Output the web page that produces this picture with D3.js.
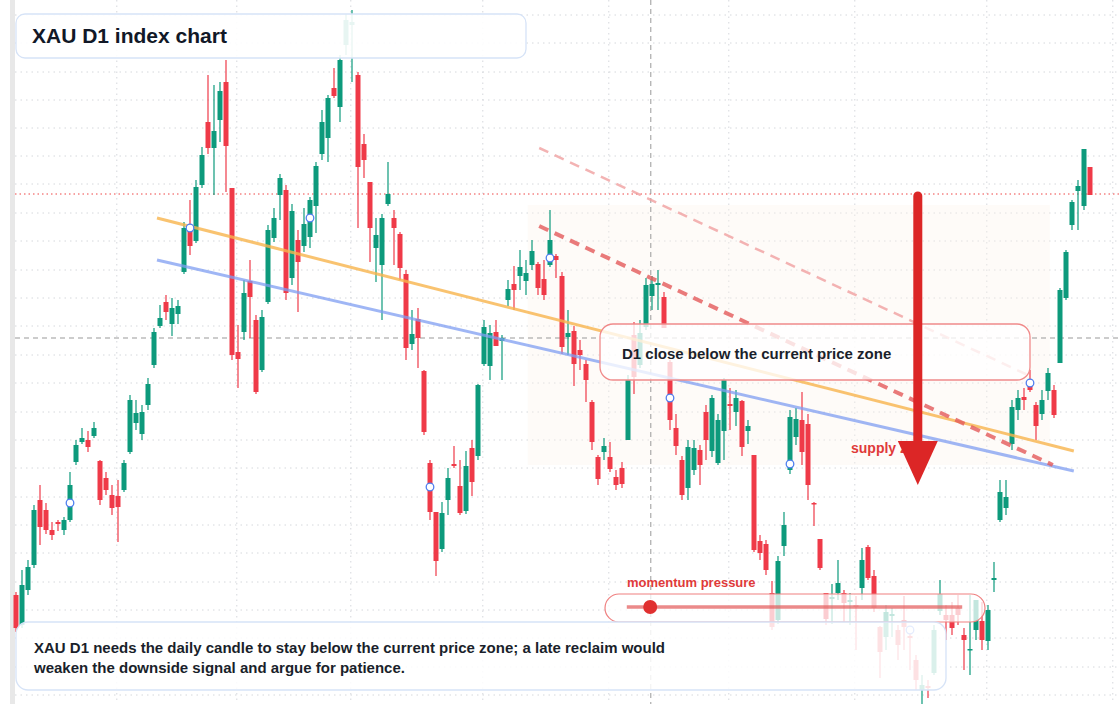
<!DOCTYPE html>
<html><head><meta charset="utf-8">
<script src="https://cdn.jsdelivr.net/npm/d3@7"></script>
<style>body{margin:0;background:#fff}svg{display:block}text{font-family:"Liberation Sans",Arial,sans-serif}</style>
</head><body><svg id="c" width="1120" height="704"></svg>
<script>
const opens =[2405,2375,2410,2435,2500,2490,2470,2478,2470,2480,2538,2558,2560,2564,2539,2522,2505,2504,2510,2548,2577,2566,2595,2635,2674,2698,2676,2686,2728,2772,2759,2815,2878,2852,2880,2918,2812,2648,2668,2719,2680,2630,2698,2762,2805,2810,2722,2760,2754,2763,2794,2846,2862,2912,2893,2955,2975,2925,2856,2818,2752,2735,2796,2782,2766,2726,2656,2681,2629,2537,2488,2451,2500,2536,2514,2489,2552,2544,2636,2634,2668,2659,2700,2716,2724,2719,2735,2736,2721,2735,2744,2724,2663,2669,2650,2636,2598,2543,2548,2543,2523,2532,2560,2665,2635,2673,2704,2715,2703,2638,2572,2540,2512,2530,2550,2588,2549,2537,2569,2596,2588,2599,2569,2545,2459,2456,2407,2380,2454,2530,2563,2580,2576,2497,2461,2407,2401,2407,2407,2398,2395,2412,2453,2424,2373,2363,2384,2370,2380,2364,2340,2310,2314,2327,2389,2385,2385,2392,2365,2350,2370,2379,2359,2420,2480,2492,2556,2590,2603,2616,2595,2586,2609,2610,2637,2702,2775,2809,2794,2833];
const highs =[2408,2430,2440,2495,2515,2497,2478,2480,2483,2528,2560,2572,2569,2578,2540,2528,2515,2520,2540,2605,2600,2595,2622,2672,2695,2705,2702,2700,2778,2800,2820,2853,2925,2915,2918,2940,2812,2675,2720,2740,2685,2690,2775,2792,2826,2815,2796,2770,2792,2803,2838,2890,2905,2932,2945,2986,2990,2928,2866,2818,2782,2786,2838,2790,2768,2730,2690,2692,2630,2540,2488,2498,2532,2554,2540,2549,2560,2616,2680,2675,2680,2665,2720,2734,2750,2740,2760,2738,2740,2790,2746,2728,2690,2674,2660,2640,2600,2545,2562,2558,2530,2538,2625,2678,2680,2722,2724,2730,2708,2640,2586,2544,2560,2560,2555,2595,2605,2586,2622,2612,2610,2600,2580,2545,2465,2460,2419,2444,2488,2590,2592,2608,2586,2498,2461,2407,2416,2440,2410,2407,2404,2452,2455,2430,2374,2395,2392,2375,2404,2366,2345,2325,2320,2375,2420,2395,2398,2405,2372,2405,2400,2398,2395,2438,2520,2520,2600,2610,2612,2630,2598,2610,2632,2615,2712,2750,2800,2820,2851,2833];
const lows  =[2368,2372,2405,2432,2455,2466,2460,2469,2465,2478,2535,2556,2548,2562,2495,2505,2485,2458,2508,2546,2570,2560,2590,2632,2672,2680,2664,2676,2726,2745,2757,2812,2846,2805,2858,2808,2640,2612,2660,2662,2606,2628,2696,2758,2780,2700,2715,2688,2748,2752,2767,2840,2838,2902,2878,2945,2918,2772,2822,2738,2718,2680,2794,2735,2720,2640,2650,2632,2565,2480,2424,2448,2485,2532,2485,2486,2504,2540,2634,2620,2654,2620,2694,2690,2710,2705,2730,2705,2700,2733,2722,2646,2645,2614,2630,2598,2550,2515,2540,2528,2510,2512,2560,2606,2632,2670,2690,2690,2672,2570,2545,2500,2500,2525,2515,2540,2543,2535,2540,2570,2574,2544,2556,2448,2440,2425,2370,2376,2444,2526,2555,2535,2500,2474,2430,2375,2376,2400,2378,2375,2350,2400,2420,2388,2322,2350,2363,2340,2350,2330,2310,2296,2302,2325,2385,2360,2365,2375,2330,2325,2360,2350,2350,2408,2478,2485,2550,2580,2590,2608,2560,2580,2600,2582,2637,2700,2770,2770,2790,2805];
const closes=[2372,2415,2433,2490,2473,2470,2465,2476,2480,2515,2555,2562,2553,2572,2500,2510,2492,2493,2537,2600,2587,2588,2616,2668,2682,2688,2692,2694,2772,2754,2813,2845,2852,2869,2909,2854,2645,2641,2707,2703,2608,2683,2770,2782,2822,2707,2789,2738,2776,2800,2834,2878,2902,2904,2940,2980,2978,2833,2840,2772,2765,2782,2806,2772,2732,2652,2666,2662,2568,2488,2439,2487,2522,2534,2487,2534,2518,2615,2673,2667,2654,2662,2711,2710,2733,2727,2749,2712,2705,2760,2740,2653,2667,2636,2645,2620,2558,2521,2554,2531,2515,2516,2620,2623,2667,2715,2716,2717,2672,2580,2554,2505,2553,2552,2535,2560,2602,2580,2620,2594,2602,2553,2574,2450,2447,2430,2373,2439,2475,2583,2581,2548,2515,2496,2432,2381,2403,2417,2397,2400,2393,2440,2422,2392,2348,2388,2386,2355,2373,2362,2320,2315,2312,2370,2406,2380,2372,2385,2360,2351,2400,2360,2390,2422,2508,2503,2593,2602,2600,2610,2574,2600,2627,2585,2710,2748,2798,2814,2851,2805];
const markerIdx=[9,29,49,69,89,109,129,149,169];
const markerVals=[2497,2772,2782,2513,2742,2602,2536,2370,2617];
const gridIdx=[16.8,36.8,55.8,77.8,98.8,118.8,139.8,161.8,182.8];
const gridPrices=[2985,2957,2928,2900,2872,2844,2816,2787,2759,2730,2702,2674,2645,2617,2588,2560,2532,2503,2475,2447,2418,2390,2362,2333,2305];
const orangeLine=[[23.5,2782],[176.3,2549]];
const blueLine=[[23.5,2740],[176.3,2529]];
const redDash=[[87.2,2774],[172.8,2535]];
const redDashLight=[[87.2,2852],[169,2624]];
const zone={x0:85.3,x1:172.3,p0:2795,p1:2535};
const arrow={i:150.3,from:2804,to:2515};
const refPrice=2806, crossPrice=2662, crossIdx=105.8;
const momentum={i0:101.8,i1:157.7,dot:105.7};

const svg=d3.select("#c");
const x=d3.scaleLinear().domain([0,179]).range([16,1090]);
const y=d3.scaleLinear().domain([3000,2296]).range([0,704]);
const G="#0d9a7c", R="#ef3a48";
svg.append("rect").attr("x",10).attr("y",0).attr("width",5).attr("height",704).attr("fill","#e8e8e8");
const g=svg.append("g");
g.selectAll(".gv").data(gridIdx).join("line").attr("x1",d=>x(d)).attr("x2",d=>x(d)).attr("y1",0).attr("y2",704).attr("stroke","#d5d8dc").attr("stroke-dasharray","1.5,4");
g.selectAll(".gh").data(gridPrices).join("line").attr("x1",15).attr("x2",1120).attr("y1",d=>y(d)).attr("y2",d=>y(d)).attr("stroke","#d5d8dc").attr("stroke-dasharray","1.5,4");
svg.append("rect").attr("x",x(zone.x0)).attr("y",y(zone.p0)).attr("width",x(zone.x1)-x(zone.x0)).attr("height",y(zone.p1)-y(zone.p0)).attr("fill","#fdf3ea").attr("opacity",0.35);
svg.append("line").attr("x1",15).attr("x2",1120).attr("y1",y(refPrice)).attr("y2",y(refPrice)).attr("stroke","#ef4444").attr("stroke-dasharray","1.5,3");
svg.append("line").attr("x1",15).attr("x2",1120).attr("y1",y(crossPrice)).attr("y2",y(crossPrice)).attr("stroke","#999").attr("stroke-dasharray","5,4");
svg.append("line").attr("x1",x(crossIdx)).attr("x2",x(crossIdx)).attr("y1",0).attr("y2",704).attr("stroke","#999").attr("stroke-dasharray","5,4");
const idx=d3.range(opens.length);
const c=svg.append("g").selectAll("g").data(idx).join("g");
c.append("line").attr("x1",i=>x(i)).attr("x2",i=>x(i)).attr("y1",i=>y(highs[i])).attr("y2",i=>y(lows[i])).attr("stroke",i=>closes[i]>=opens[i]?G:R).attr("stroke-width",1.2);
c.append("rect").attr("x",i=>x(i)-2.5).attr("width",5).attr("y",i=>y(Math.max(opens[i],closes[i]))).attr("height",i=>Math.max(1.5,Math.abs(y(opens[i])-y(closes[i])))).attr("fill",i=>closes[i]>=opens[i]?G:R);
const ln=d3.line().x(d=>x(d[0])).y(d=>y(d[1]));
svg.append("path").attr("d",ln(orangeLine)).attr("stroke","#f8b44c").attr("stroke-width",3).attr("opacity",0.8).attr("fill","none");
svg.append("path").attr("d",ln(blueLine)).attr("stroke","#7f9ef2").attr("stroke-width",3).attr("opacity",0.75).attr("fill","none");
svg.append("path").attr("d",ln(redDash)).attr("stroke","#e35a5a").attr("stroke-width",4).attr("stroke-dasharray","10,7").attr("opacity",0.8).attr("fill","none");
svg.append("path").attr("d",ln(redDashLight)).attr("stroke","#f0a0a0").attr("stroke-width",2.5).attr("stroke-dasharray","10,7").attr("opacity",0.8).attr("fill","none");
svg.selectAll(".mk").data(markerIdx).join("circle").attr("cx",d=>x(d)).attr("cy",(d,i)=>y(markerVals[i])).attr("r",3.8).attr("fill","#fff").attr("stroke","#4f7ff0").attr("stroke-width",1.3);
svg.append("text").attr("x",851).attr("y",453).attr("fill","#e03a3a").attr("font-size",14).attr("font-weight","bold").text("supply zone");
svg.append("rect").attr("x",600).attr("y",324).attr("width",430).attr("height",56).attr("rx",13).attr("fill","#fff").attr("fill-opacity",0.78).attr("stroke","#f08a8a").attr("stroke-width",1.3);
svg.append("text").attr("x",622).attr("y",359).attr("fill","#1a1f2b").attr("font-size",15).attr("font-weight","bold").text("D1 close below the current price zone");
const ax=x(arrow.i);
svg.append("line").attr("x1",ax).attr("x2",ax).attr("y1",y(arrow.from)).attr("y2",y(arrow.to)-40).attr("stroke","#dc2626").attr("stroke-width",9).attr("stroke-linecap","round");
svg.append("path").attr("d",`M${ax-20},${y(arrow.to)-44}L${ax+20},${y(arrow.to)-44}L${ax},${y(arrow.to)}Z`).attr("fill","#dc2626");
svg.append("rect").attr("x",605).attr("y",594).attr("width",380).attr("height",28).attr("rx",14).attr("fill","#fff").attr("fill-opacity",0.75).attr("stroke","#ef8080").attr("stroke-width",1.2);
svg.append("line").attr("x1",x(momentum.i0)).attr("x2",x(momentum.i1)).attr("y1",607).attr("y2",607).attr("stroke","#e35a5a").attr("stroke-width",3.5).attr("opacity",0.7);
svg.append("circle").attr("cx",x(momentum.dot)).attr("cy",607).attr("r",7).attr("fill","#e03030");
svg.append("text").attr("x",627).attr("y",587).attr("fill","#e03a3a").attr("font-size",13).attr("font-weight","bold").text("momentum pressure");
svg.append("rect").attr("x",16).attr("y",14).attr("width",510).attr("height",44).attr("rx",9).attr("fill","#fff").attr("fill-opacity",0.9).attr("stroke","#d6e3f7").attr("stroke-width",1.3);
svg.append("text").attr("x",32).attr("y",43).attr("fill","#111827").attr("font-size",21).attr("font-weight","bold").text("XAU D1 index chart");
svg.append("rect").attr("x",16).attr("y",622).attr("width",930).attr("height",68).attr("rx",12).attr("fill","#fff").attr("fill-opacity",0.85).attr("stroke","#d6e3f7").attr("stroke-width",1.3);
const t=svg.append("text").attr("x",34).attr("fill","#1a1f2b").attr("font-size",15).attr("font-weight","bold");
t.append("tspan").attr("x",34).attr("y",653).text("XAU D1 needs the daily candle to stay below the current price zone; a late reclaim would");
t.append("tspan").attr("x",34).attr("y",673).text("weaken the downside signal and argue for patience.");
</script></body></html>
